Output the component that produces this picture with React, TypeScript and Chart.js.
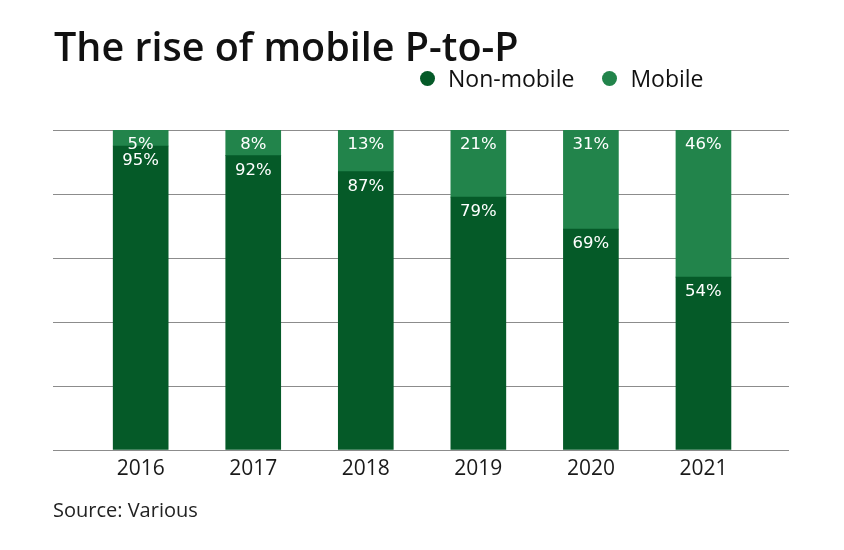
import React, { useEffect, useRef } from "react";
import { Chart, registerables } from "chart.js";

Chart.register(...registerables);

const years = ["2016", "2017", "2018", "2019", "2020", "2021"];
const nonMobile = [95, 92, 87, 79, 69, 54];
const mobile = [5, 8, 13, 21, 31, 46];
const seriesNames = ["Non-mobile", "Mobile"];
const seriesColors = ["#055a28", "#22844b"];
const yTicks = [0, 20, 40, 60, 80, 100];

const FONT = "'Open Sans', Lato, sans-serif";

const barLabelPlugin = {
  id: "barLabels",
  afterDatasetsDraw(chart: any) {
    const ctx = chart.ctx;
    ctx.save();
    ctx.fillStyle = "#ffffff";
    ctx.font = "16.5px 'DejaVu Sans', sans-serif";
    ctx.textAlign = "center";
    ctx.textBaseline = "middle";
    chart.data.datasets.forEach((ds: any, di: number) => {
      const meta = chart.getDatasetMeta(di);
      meta.data.forEach((bar: any, i: number) => {
        const v = ds.data[i].y;
        const top = Math.min(bar.y, bar.base);
        ctx.fillText(v + "%", bar.x, top + 15);
      });
    });
    ctx.restore();
  },
};

export default function App() {
  const ref = useRef<HTMLCanvasElement>(null);

  useEffect(() => {
    if (!ref.current) return;
    const chart = new Chart(ref.current, {
      type: "bar",
      data: {
        datasets: [
          {
            label: seriesNames[0],
            data: nonMobile.map((v, i) => ({ x: i, y: v })),
            backgroundColor: seriesColors[0],
            borderWidth: 0,
            barThickness: 55,
          },
          {
            label: seriesNames[1],
            data: mobile.map((v, i) => ({ x: i, y: v })),
            backgroundColor: seriesColors[1],
            borderWidth: 0,
            barThickness: 55,
          },
        ],
      },
      options: {
        animation: false,
        responsive: false,
        maintainAspectRatio: false,
        layout: { padding: { left: 45, right: 47, top: 122, bottom: 52 } },
        plugins: {
          legend: { display: false },
          tooltip: { enabled: false },
        },
        scales: {
          x: {
            type: "linear",
            stacked: true,
            offset: false,
            min: -0.779,
            max: 5.76,
            grid: { display: false, offset: false },
            border: { display: false },
            afterFit: (s: any) => {
              s.height = 40;
            },
            ticks: {
              stepSize: 1,
              includeBounds: false,
              autoSkip: false,
              maxRotation: 0,
              padding: -2,
              color: "#1a1a1a",
              font: { family: FONT, size: 21 },
              callback: (v: any) =>
                Number.isInteger(v) && years[v] !== undefined ? years[v] : "",
            },
          },
          y: {
            stacked: true,
            min: yTicks[0],
            max: yTicks[yTicks.length - 1],
            afterBuildTicks: (s: any) => {
              s.ticks = yTicks.map((v) => ({ value: v }));
            },
            grid: { color: "#8c8c8c", lineWidth: 1, drawTicks: false },
            border: { display: false },
            ticks: { display: false },
          },
        },
      },
      plugins: [barLabelPlugin],
    });
    return () => chart.destroy();
  }, []);

  return (
    <div style={{ position: "relative", width: 828, height: 534, fontFamily: FONT }}>
      <canvas
        ref={ref}
        width={828}
        height={534}
        style={{ position: "absolute", left: 0, top: 0, width: 828, height: 534 }}
      />
      <div
        style={{
          position: "absolute",
          left: 46,
          top: 12,
          fontSize: 39.5,
          fontWeight: 600,
          color: "#111",
          whiteSpace: "nowrap",
          lineHeight: "52px",
        }}
      >
        The rise of mobile P-to-P
      </div>
      <div
        style={{
          position: "absolute",
          left: 412,
          top: 55,
          display: "flex",
          alignItems: "center",
          fontSize: 23,
          color: "#111",
          lineHeight: "30px",
          whiteSpace: "nowrap",
        }}
      >
        {seriesNames.map((n, i) => (
          <span key={n} style={{ display: "flex", alignItems: "center", marginRight: 28 }}>
            <span
              style={{
                display: "inline-block",
                width: 15,
                height: 15,
                borderRadius: "50%",
                background: seriesColors[i],
                marginRight: 13,
              }}
            />
            {n}
          </span>
        ))}
      </div>
      <div
        style={{
          position: "absolute",
          left: 45,
          top: 489,
          fontSize: 20,
          color: "#222",
          whiteSpace: "nowrap",
          lineHeight: "26px",
        }}
      >
        Source: Various
      </div>
    </div>
  );
}
